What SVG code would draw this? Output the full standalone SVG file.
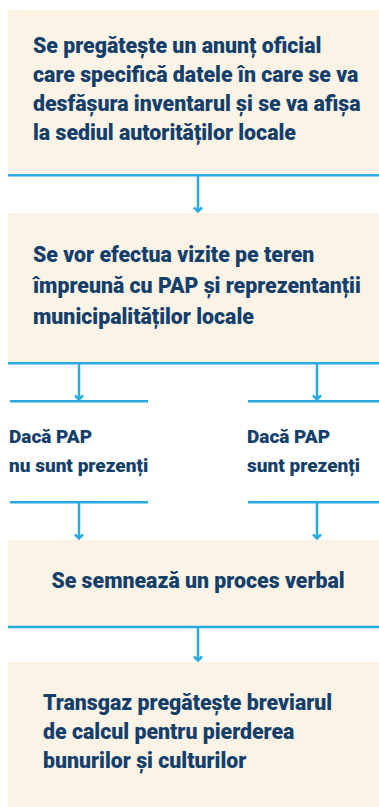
<svg xmlns="http://www.w3.org/2000/svg" width="379" height="807" viewBox="0 0 379 807">
<defs>
<style>
.box{fill:#FCF3E7}
.t{font-family:Roboto,"Liberation Sans",sans-serif;font-weight:900;font-size:21.3px;fill:#143F6B}
.s{font-size:19px}
.ln{stroke:#29ABE2;stroke-width:2.5;fill:none}
</style>
</defs>
<g id="n1">
<rect class="box" x="8" y="10" width="371" height="164"/>
<text class="t"><tspan x="33" y="53">Se pregătește un anunț oficial</tspan><tspan x="33" y="82">care specifică datele în care se va</tspan><tspan x="33" y="111">desfășura inventarul și se va afișa</tspan><tspan x="33" y="140">la sediul autorităților locale</tspan></text>
</g>
<g id="n2">
<rect class="box" x="8" y="213" width="371" height="150"/>
<text class="t"><tspan x="33" y="262">Se vor efectua vizite pe teren</tspan><tspan x="33" y="293">împreună cu PAP și reprezentanții</tspan><tspan x="33" y="324">municipalităților locale</tspan></text>
</g>
<g id="n3">
<text class="t s"><tspan x="9" y="443">Dacă PAP</tspan><tspan x="9" y="472">nu sunt prezenți</tspan></text>
</g>
<g id="n4">
<text class="t s"><tspan x="247" y="443">Dacă PAP</tspan><tspan x="247" y="472">sunt prezenți</tspan></text>
</g>
<g id="n5">
<rect class="box" x="8" y="540" width="371" height="86"/>
<text class="t" x="198" y="588" text-anchor="middle">Se semnează un proces verbal</text>
</g>
<g id="n6">
<rect class="box" x="8" y="662" width="371" height="145"/>
<text class="t"><tspan x="43" y="710">Transgaz pregătește breviarul</tspan><tspan x="43" y="739">de calcul pentru pierderea</tspan><tspan x="43" y="768">bunurilor și culturilor</tspan></text>
</g>
<g id="connectors">
<path class="ln" d="M8 175.2H379M8 363.2H379M10 401.3H148M248 401.3H379M10 502.3H148M248 502.3H379M8 627H379"/>
<path class="ln" d="M198 175V211M79 363V399M317 363V399M79 502V538M317 502V538M198 627V660"/>
<path class="ln" d="M194 207.5L198 211.5L202 207.5M75 395.5L79 399.5L83 395.5M313 395.5L317 399.5L321 395.5M75 534.5L79 538.5L83 534.5M313 534.5L317 538.5L321 534.5M194 656.5L198 660.5L202 656.5"/>
</g>
</svg>
